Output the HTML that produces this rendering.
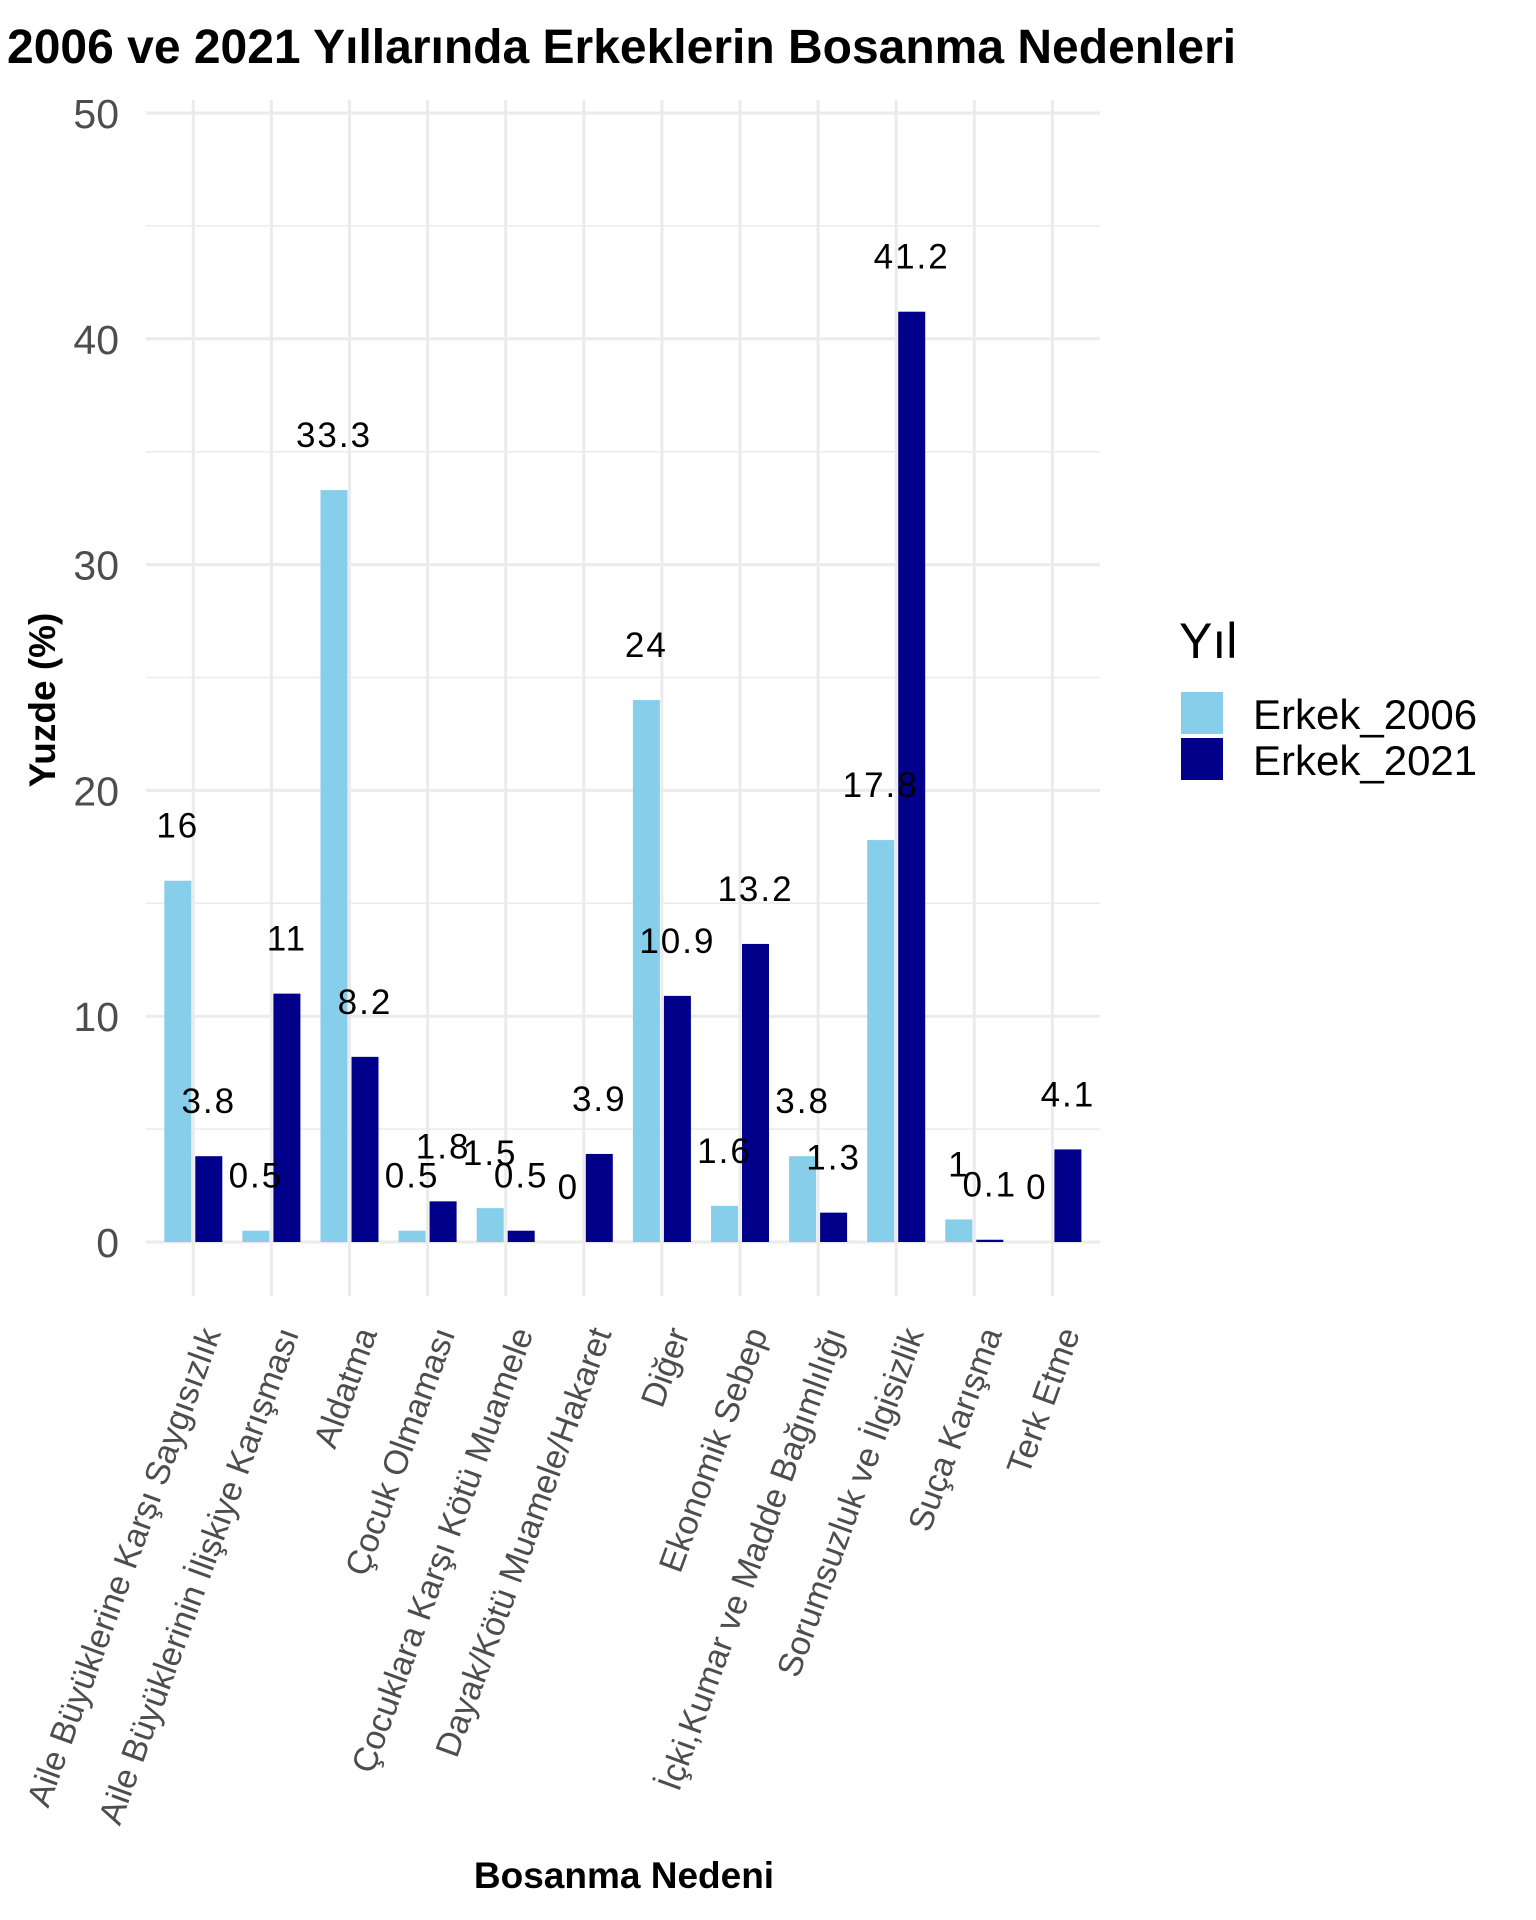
<!DOCTYPE html>
<html><head><meta charset="utf-8"><style>
html,body{margin:0;padding:0;background:#fff;}
svg{display:block;font-family:"Liberation Sans",sans-serif;}
</style></head><body>
<svg id="chart" width="1536" height="1920" viewBox="0 0 1536 1920" xmlns="http://www.w3.org/2000/svg">
<text x="7" y="63" font-size="48" font-weight="bold" fill="#000">2006 ve 2021 Yıllarında Erkeklerin Bosanma Nedenleri</text>
<g id="grid"></g>
<g id="bars"></g>
<g id="labels"></g>
<g id="yticks"></g>
<g id="xticks"></g>
<text transform="translate(55,700) rotate(-90)" text-anchor="middle" font-size="37" font-weight="bold" fill="#000">Yuzde (%)</text>
<text x="624" y="1888" text-anchor="middle" font-size="37" font-weight="bold" fill="#000">Bosanma Nedeni</text>
<g>
<text x="1179" y="658" font-size="50" fill="#000">Yıl</text>
<g>
<rect x="1181" y="692" width="42" height="42" fill="#87CEEB"/>
<text x="1253" y="729" font-size="42" fill="#000">Erkek_2006</text>
</g>
<g>
<rect x="1181" y="738" width="42" height="42" fill="#00008B"/>
<text x="1253" y="775" font-size="42" fill="#000">Erkek_2021</text>
</g>
</g>
</svg>
<script>
const categories = ["Aile Büyüklerine Karşı Saygısızlık","Aile Büyüklerinin İlişkiye Karışması","Aldatma","Çocuk Olmaması","Çocuklara Karşı Kötü Muamele","Dayak/Kötü Muamele/Hakaret","Diğer","Ekonomik Sebep","İçki,Kumar ve Madde Bağımlılığı","Sorumsuzluk ve İlgisizlik","Suça Karışma","Terk Etme"];
const values2006 = [16,0.5,33.3,0.5,1.5,0,24,1.6,3.8,17.8,1,0];
const values2021 = [3.8,11,8.2,1.8,0.5,3.9,10.9,13.2,1.3,41.2,0.1,4.1];
const yTicks = [0,10,20,30,40,50];
const yMinor = [5,15,25,35,45];

const NS = "http://www.w3.org/2000/svg";
const panelL = 146, panelR = 1100, panelT = 100, panelB = 1296;
function yScale(v){ return 1242 - v * 22.58; }
function xScale(i){ return 193.3 + i * 78.1; }
const barW = 27, off = 15.5;
function mk(tag, attrs, parent){ const e=document.createElementNS(NS,tag); for(const k in attrs) e.setAttribute(k,attrs[k]); parent.appendChild(e); return e; }
const grid=document.getElementById('grid'), bars=document.getElementById('bars'), labels=document.getElementById('labels'), yt=document.getElementById('yticks'), xt=document.getElementById('xticks');

yMinor.forEach(v=>{ const l=mk('line',{x1:panelL,x2:panelR,y1:yScale(v),y2:yScale(v),stroke:'#ebebeb','stroke-width':1.5},grid);

 });
yTicks.forEach(v=>{ const l=mk('line',{x1:panelL,x2:panelR,y1:yScale(v),y2:yScale(v),stroke:'#ebebeb','stroke-width':3},grid);


const t=mk('text',{x:119,y:yScale(v)+15,'text-anchor':'end','font-size':41,fill:'#4d4d4d'},yt); t.textContent=v;

 });
categories.forEach((c,i)=>{ const l=mk('line',{x1:xScale(i),x2:xScale(i),y1:panelT,y2:panelB,stroke:'#ebebeb','stroke-width':3},grid);


const x=xScale(i)+28, y=1333;
const t=mk('text',{transform:`translate(${x},${y}) rotate(-70)`,'text-anchor':'end','font-size':34,fill:'#4d4d4d'},xt); t.textContent=c;

 });
function drawSeries(vals,color,dx,name){
 vals.forEach((v,i)=>{ const cx=xScale(i)+dx;
  const r=mk('rect',{x:cx-barW/2,y:yScale(v),width:barW,height:Math.max(0,yScale(0)-yScale(v)),fill:color},bars);
  
  
  const t=mk('text',{x:cx,y:yScale(v)-43,'text-anchor':'middle','font-size':35,'letter-spacing':2,fill:'#000'},labels); t.textContent=v;
  
  
 });
}
drawSeries(values2006,'#87CEEB',-off,'2006');
drawSeries(values2021,'#00008B',off,'2021');
</script>
</body></html>
